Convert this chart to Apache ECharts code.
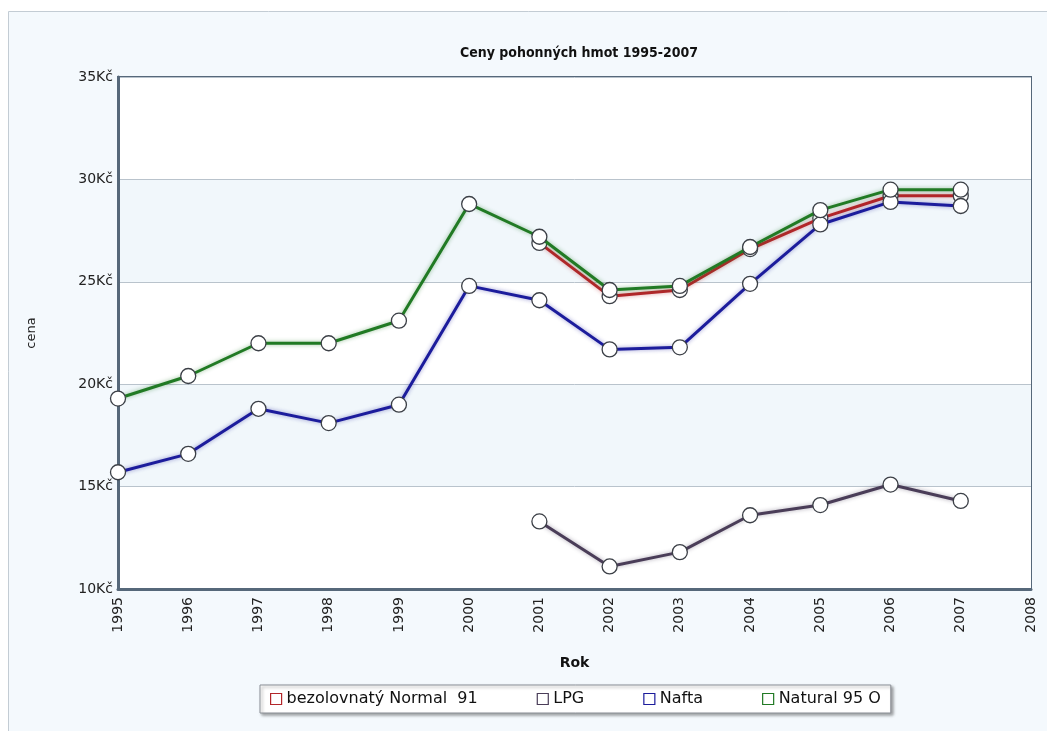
<!DOCTYPE html>
<html>
<head>
<meta charset="utf-8">
<script src="https://cdn.jsdelivr.net/npm/echarts@6/dist/echarts.min.js"></script>
<style>
  html, body { margin: 0; padding: 0; background: #ffffff; }
  #chart { width: 1047px; height: 731px; }
</style>
</head>
<body>
<div id="chart"></div>
<script>
// Fuel prices in the Czech Republic, 1995–2007 (CZK per litre)
const years = [1995, 1996, 1997, 1998, 1999, 2000, 2001, 2002, 2003, 2004, 2005, 2006, 2007];
const normal91 = [null, null, null, null, null, null, 26.9, 24.3, 24.6, 26.6, 28.1, 29.2, 29.2];
const lpg      = [null, null, null, null, null, null, 13.3, 11.1, 11.8, 13.6, 14.1, 15.1, 14.3];
const nafta    = [15.7, 16.6, 18.8, 18.1, 19.0, 24.8, 24.1, 21.7, 21.8, 24.9, 27.8, 28.9, 28.7];
const natural95 = [19.3, 20.4, 22.0, 22.0, 23.1, 28.8, 27.2, 24.6, 24.8, 26.7, 28.5, 29.5, 29.5];

const seriesNames = ['bezolovnatý Normal  91', 'LPG', 'Nafta', 'Natural 95 O'];
const seriesColors = ['#b3262a', '#4a3d58', '#1c1c9c', '#217a24'];
const seriesValues = [normal91, lpg, nafta, natural95];

const font = 'DejaVu Sans, Verdana, sans-serif';

const chart = echarts.init(document.getElementById('chart'), null, { renderer: 'canvas' });

const series = seriesNames.map((name, i) => ({
  name: name,
  type: 'line',
  data: years.map((y, k) => [y, seriesValues[i][k]]),
  connectNulls: false,
  symbol: 'circle',
  symbolSize: 15,
  showAllSymbol: true,
  lineStyle: {
    color: seriesColors[i],
    width: 3,
    shadowColor: echarts.color.modifyAlpha(seriesColors[i], 0.45),
    shadowBlur: 4
  },
  itemStyle: {
    color: '#ffffff',
    borderColor: '#3b3f46',
    borderWidth: 1.3
  },
  emphasis: { disabled: true },
  z: 2 + (i === 3 ? 2 : i === 2 ? 1 : 0)
}));

chart.setOption({
  backgroundColor: '#ffffff',
  animation: false,
  graphic: [{
    type: 'rect',
    z: -10,
    shape: { x: 8.5, y: 11.5, width: 1060, height: 740 },
    style: { fill: '#f4f9fd', stroke: '#c3ccd4', lineWidth: 1 }
  }],
  title: {
    text: 'Ceny pohonných hmot 1995-2007',
    left: 574,
    textAlign: 'center',
    top: 41,
    textStyle: {
      fontFamily: 'DejaVu Sans Condensed, DejaVu Sans, sans-serif',
      fontSize: 14,
      fontWeight: 'bold',
      color: '#111111'
    }
  },
  legend: {
    left: 260,
    top: 685,
    padding: [6, 10, 6, 10],
    itemGap: 59,
    itemWidth: 11,
    itemHeight: 11,
    icon: 'rect',
    backgroundColor: '#ffffff',
    borderColor: '#8a8f96',
    borderWidth: 1,
    shadowColor: 'rgba(0,0,0,0.35)',
    shadowBlur: 3,
    shadowOffsetX: 2,
    shadowOffsetY: 2,
    selectedMode: false,
    textStyle: { fontFamily: font, fontSize: 16, color: '#111111' },
    data: seriesNames.map((n, i) => ({
      name: n,
      itemStyle: { color: '#ffffff', borderColor: seriesColors[i], borderWidth: 1.2 }
    }))
  },
  grid: {
    left: 118,
    right: 16,
    top: 77,
    bottom: 142,
    show: true,
    borderColor: '#56687a',
    borderWidth: 2,
    backgroundColor: 'transparent'
  },
  xAxis: {
    type: 'value',
    min: 1995,
    max: 2008,
    interval: 1,
    name: 'Rok',
    nameLocation: 'middle',
    nameGap: 67,
    nameTextStyle: { fontFamily: font, fontSize: 14, fontWeight: 'bold', color: '#111111' },
    axisLine: { show: true, lineStyle: { color: '#56687a', width: 3 } },
    axisTick: { show: false },
    splitLine: { show: false },
    axisLabel: {
      rotate: 90,
      margin: 8,
      fontFamily: font,
      fontSize: 14,
      color: '#222222',
      formatter: v => String(v)
    }
  },
  yAxis: {
    type: 'value',
    min: 10,
    max: 35,
    interval: 5,
    name: 'cena',
    nameLocation: 'middle',
    nameRotate: 90,
    nameGap: 80,
    nameTextStyle: { fontFamily: font, fontSize: 13, color: '#222222' },
    axisLine: { show: true, lineStyle: { color: '#56687a', width: 3 } },
    axisTick: { show: false },
    axisLabel: {
      margin: 5,
      fontFamily: font,
      fontSize: 14,
      color: '#222222',
      formatter: v => v + 'Kč'
    },
    splitLine: { show: true, lineStyle: { color: '#b9c3cc', width: 1 } },
    splitArea: { show: true, areaStyle: { color: ['#ffffff', '#f1f7fb'] } }
  },
  series: series
});
</script>
</body>
</html>
